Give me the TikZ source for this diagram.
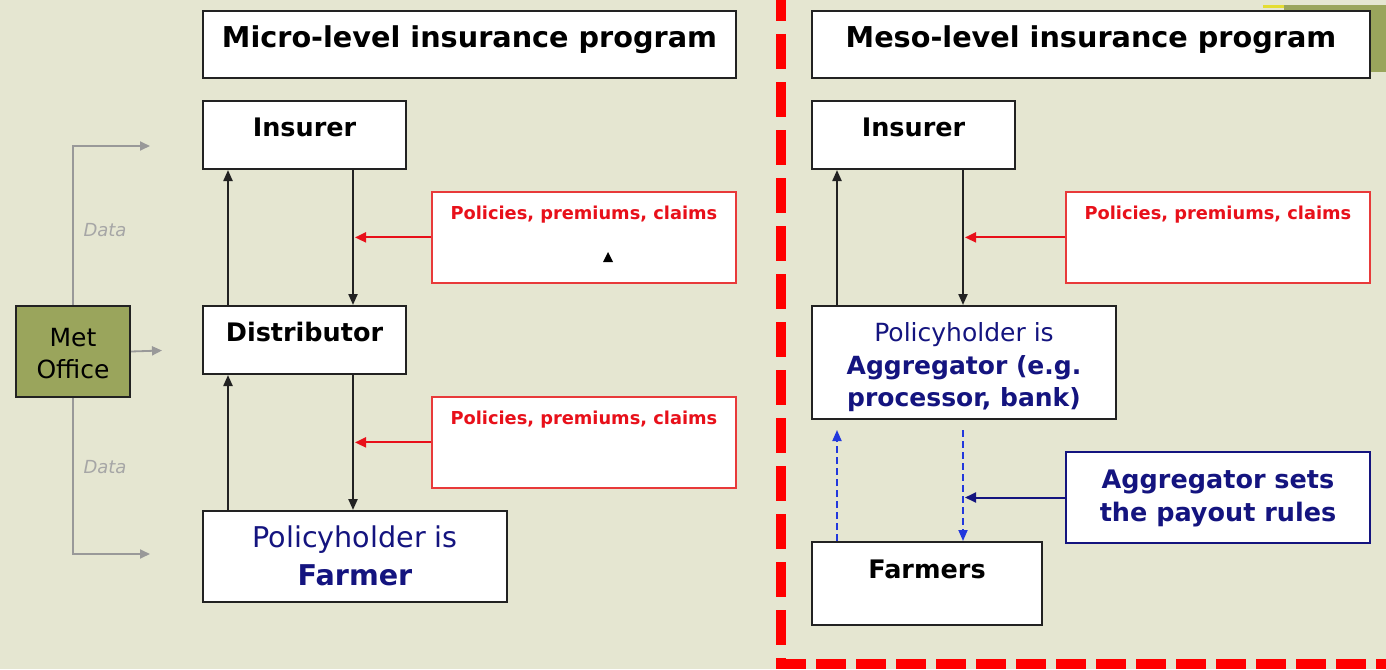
\documentclass[tikz,border=0pt]{standalone}
\usepackage{fontspec}
\setmainfont{DejaVu Sans}
\usetikzlibrary{arrows.meta,calc}

\definecolor{slidebg}{HTML}{E5E6D1}
\definecolor{olive}{HTML}{9AA55C}
\definecolor{boxline}{HTML}{222222}
\definecolor{redline}{HTML}{E83A3A}
\definecolor{redtext}{HTML}{E8101A}
\definecolor{navy}{HTML}{14147F}
\definecolor{dashblue}{HTML}{2238DD}
\definecolor{datagray}{HTML}{999999}

\begin{document}
\begin{tikzpicture}[x=1pt,y=-1pt,
        box/.style={
                draw=boxline,
                line width=2pt,
                fill=white,
                inner sep=0pt,
                anchor=north west
            },
        redbox/.style={
                box,
                draw=redline,
                line width=1.8pt
            },
        txt/.style={
                anchor=base,
                inner sep=0pt,
                font=\fontsize{25.5}{30}\selectfont\bfseries
            },
        flow/.style={
                arrows = {-Triangle[length=11pt,width=9pt]},
                line width=2.2pt,
                draw=boxline
            },
        redflow/.style={
                arrows = {-Triangle[length=11pt,width=10pt]},
                line width=2pt,
                draw=redtext
            },
        feed/.style={
                arrows = {-Triangle[length=10pt,width=9pt]},
                line width=1.8pt,
                draw=datagray
            }]
        \useasboundingbox (0,0) rectangle (1386,669);
        \fill [slidebg] (0,0) rectangle (1386,669);
        \fill [olive] (1284,5) rectangle (1386,72);
        \fill [yellow!70!olive] (1263,5) rectangle (1284,8);

        % micro level
        \node [box, minimum width=533pt, minimum height=67pt] (titleL) at (202,10) {};
        \node [box, minimum width=203pt, minimum height=68pt] (insL) at (202,100) {};
        \node [box, minimum width=203pt, minimum height=68pt] (distL) at (202,305) {};
        \node [box, minimum width=304pt, minimum height=91pt] (farmL) at (202,510) {};
        \node [redbox, minimum width=304pt, minimum height=91pt] (polL1) at (431,191) {};
        \node [redbox, minimum width=304pt, minimum height=91pt] (polL2) at (431,396) {};
        \node [box, fill=olive, minimum width=114pt, minimum height=91pt] (met) at (15,305) {};

        \node [txt, font=\fontsize{28.7}{30}\selectfont\bfseries] (titleLtxt) at ($(titleL.north)+(0,38)$) {Micro-level insurance program};
        \node [txt] (insLtxt) at ($(insL.north)+(0,36)$) {Insurer};
        \node [txt] (distLtxt) at ($(distL.north)+(0,36)$) {Distributor};
        \node [txt, font=\fontsize{28.6}{30}\selectfont, text=navy] (farmLtxt) at ($(farmL.north)+(0,37)$) {Policyholder is};
        \node [txt, font=\fontsize{28.6}{30}\selectfont\bfseries, text=navy] (farmLtxt2) at ($(farmL.north)+(0,75)$) {Farmer};
        \node [txt, font=\fontsize{17.8}{20}\selectfont\bfseries, text=redtext] (polL1txt) at ($(polL1.north)+(0,28)$) {Policies, premiums, claims};
        \node [txt, font=\fontsize{17.8}{20}\selectfont\bfseries, text=redtext] (polL2txt) at ($(polL2.north)+(0,28)$) {Policies, premiums, claims};
        \node [txt, font=\fontsize{25}{30}\selectfont] (mettxt) at ($(met.north)+(0,41)$) {Met};
        \node [txt, font=\fontsize{25}{30}\selectfont] (mettxt2) at ($(met.north)+(0,73)$) {Office};
        \fill (603,262) -- (613,262) -- (608,252) -- cycle;

        \draw [flow] ($(distL.north west)+(26,0)$) -- ($(insL.south west)+(26,0)$);
        \draw [flow] ($(insL.south west)+(151,0)$) -- ($(distL.north west)+(151,0)$);
        \draw [flow] ($(farmL.north west)+(26,0)$) -- ($(distL.south west)+(26,0)$);
        \draw [flow] ($(distL.south west)+(151,0)$) -- ($(farmL.north west)+(151,0)$);
        \draw [redflow] (polL1.west) -- ($(polL1.west)+(-76,0)$);
        \draw [redflow] (polL2.west) -- ($(polL2.west)+(-76,0)$);

        % met office data
        \coordinate (dataT) at (150,146);
        \coordinate (dataM) at (162,350.5);
        \coordinate (dataB) at (150,554);
        \draw [feed] (met.north) |- (dataT);
        \draw [feed] (met.east) -- (dataM);
        \draw [feed] (met.south) |- (dataB);
        \node [txt, font=\fontsize{18}{18}\selectfont\itshape, text=gray!70] (dataTtxt) at (105,236) {Data};
        \node [txt, font=\fontsize{18}{18}\selectfont\itshape, text=gray!70] (dataBtxt) at (105,473) {Data};

        % separator
        \draw [red, line width=10pt, dash pattern=on 35pt off 13pt] (781,-14) -- (781,664);
        \draw [red, line width=10pt, dash pattern=on 30pt off 10pt] (776,664) -- (1390,664);

        % meso level
        \node [box, minimum width=558pt, minimum height=67pt] (titleR) at (811,10) {};
        \node [box, minimum width=203pt, minimum height=68pt] (insR) at (811,100) {};
        \node [box, minimum width=304pt, minimum height=113pt] (aggR) at (811,305) {};
        \node [box, minimum width=230pt, minimum height=83pt] (farmR) at (811,541) {};
        \node [redbox, minimum width=304pt, minimum height=91pt] (polR) at (1065,191) {};
        \node [box, draw=navy, minimum width=304pt, minimum height=91pt] (ruleR) at (1065,451) {};

        \node [txt, font=\fontsize{28.7}{30}\selectfont\bfseries] (titleRtxt) at ($(titleR.north)+(0,38)$) {Meso-level insurance program};
        \node [txt] (insRtxt) at ($(insR.north)+(0,36)$) {Insurer};
        \node [txt, font=\fontsize{25}{30}\selectfont, text=navy] (aggRtxt) at ($(aggR.north)+(0,36)$) {Policyholder is};
        \node [txt, font=\fontsize{25}{30}\selectfont\bfseries, text=navy] (aggRtxt2) at ($(aggR.north)+(0,69)$) {Aggregator (e.g.};
        \node [txt, font=\fontsize{25}{30}\selectfont\bfseries, text=navy] (aggRtxt3) at ($(aggR.north)+(0,101)$) {processor, bank)};
        \node [txt] (farmRtxt) at ($(farmR.north)+(0,37)$) {Farmers};
        \node [txt, font=\fontsize{17.8}{20}\selectfont\bfseries, text=redtext] (polRtxt) at ($(polR.north)+(0,28)$) {Policies, premiums, claims};
        \node [txt, font=\fontsize{25.5}{30}\selectfont\bfseries, text=navy] (ruleRtxt) at ($(ruleR.north)+(0,37)$) {Aggregator sets};
        \node [txt, font=\fontsize{25.5}{30}\selectfont\bfseries, text=navy] (ruleRtxt2) at ($(ruleR.north)+(0,70)$) {the payout rules};

        \draw [flow] ($(aggR.north west)+(26,0)$) -- ($(insR.south west)+(26,0)$);
        \draw [flow] ($(insR.south west)+(152,0)$) -- ($(aggR.north west)+(152,0)$);
        \draw [redflow] (polR.west) -- ($(polR.west)+(-100,0)$);
        \draw [redflow, draw=navy] (ruleR.west) -- ($(ruleR.west)+(-100,0)$);

        \coordinate (dashUp) at ($(aggR.south west)+(26,10)$);
        \coordinate (dashDown) at ($(aggR.south west)+(152,10)$);
        \draw [flow, draw=dashblue, line width=1.8pt, dash pattern=on 7pt off 4pt] ($(farmR.north west)+(26,0)$) -- (dashUp);
        \draw [flow, draw=dashblue, line width=1.8pt, dash pattern=on 7pt off 4pt] (dashDown) -- ($(farmR.north west)+(152,0)$);
    \end{tikzpicture}
\end{document}
